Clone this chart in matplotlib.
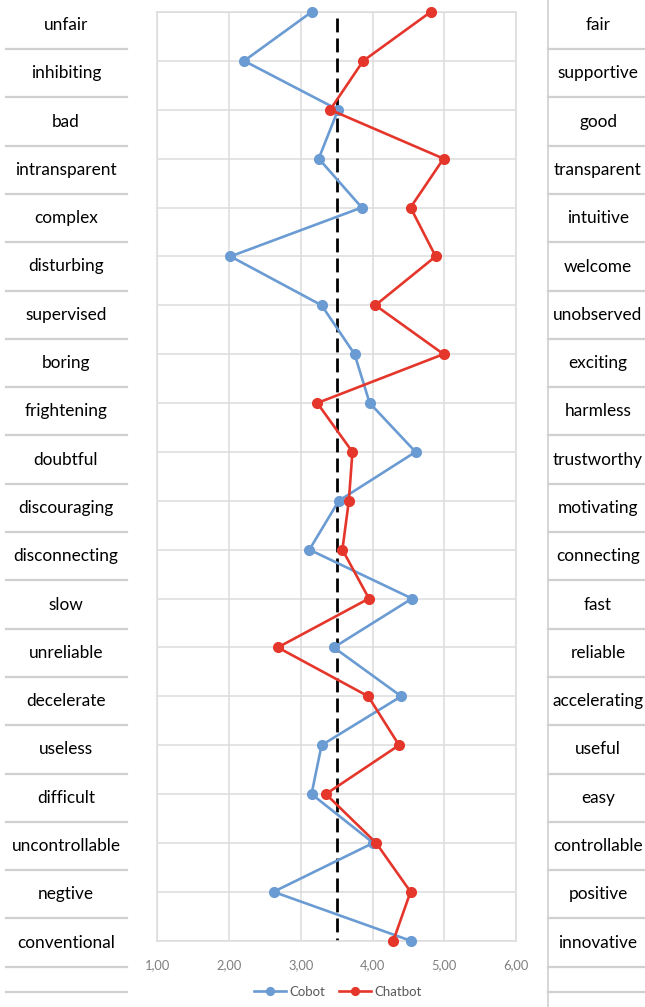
import matplotlib
matplotlib.use("Agg")
import matplotlib.pyplot as plt
from matplotlib.lines import Line2D

left_labels = ["unfair", "inhibiting", "bad", "intransparent", "complex", "disturbing",
               "supervised", "boring", "frightening", "doubtful", "discouraging",
               "disconnecting", "slow", "unreliable", "decelerate", "useless",
               "difficult", "uncontrollable", "negtive", "conventional"]
right_labels = ["fair", "supportive", "good", "transparent", "intuitive", "welcome",
                "unobserved", "exciting", "harmless", "trustworthy", "motivating",
                "connecting", "fast", "reliable", "accelerating", "useful",
                "easy", "controllable", "positive", "innovative"]
cobot = [3.15, 2.21, 3.52, 3.25, 3.85, 2.02, 3.29, 3.75, 3.96, 4.60,
         3.53, 3.12, 4.55, 3.46, 4.40, 3.29, 3.15, 4.01, 2.62, 4.53]
chatbot = [4.81, 3.87, 3.41, 4.99, 4.53, 4.88, 4.04, 4.99, 3.23, 3.72,
           3.67, 3.58, 3.95, 2.68, 3.94, 4.37, 3.35, 4.05, 4.53, 4.29]
x_ticks = [1, 2, 3, 4, 5, 6]
tick_labels = ["1,00", "2,00", "3,00", "4,00", "5,00", "6,00"]
neutral = 3.5

plt.rcParams['font.family'] = ['Lato', 'DejaVu Sans']

W, H = 645, 1007
fig = plt.figure(figsize=(W / 100, H / 100), dpi=100)

def fx(px):
    return px / W

def fy(py):
    return 1 - py / H

ax_l, ax_r = 157.3, 516.0
ax_t, ax_b = 12.0, 940.7
ax = fig.add_axes([fx(ax_l), fy(ax_b), fx(ax_r) - fx(ax_l), fy(ax_t) - fy(ax_b)])

rows = list(range(len(left_labels)))
blue = "#6A9BD3"
red = "#E5362B"
grid_c = "#DCDCDC"

ax.set_xlim(1, 6)
ax.set_ylim(len(rows) - 1, 0)
ax.set_xticks(x_ticks)
ax.set_xticklabels(tick_labels, color="#7F7F7F", fontsize=9.3)
ax.set_yticks(rows)
ax.set_yticklabels([])
ax.tick_params(axis="both", length=0, pad=13)
ax.grid(True, color=grid_c, linewidth=1.1)
ax.set_axisbelow(True)
for s in ax.spines.values():
    s.set_color(grid_c)
    s.set_linewidth(1.1)

ax.plot([neutral, neutral], [0.13, len(rows) - 1], color="black", lw=2,
        dashes=(5, 2.2), zorder=2)
l1, = ax.plot(cobot, rows, color=blue, lw=1.9, marker="o", ms=7, label="Cobot",
              zorder=3, clip_on=False)
l2, = ax.plot(chatbot, rows, color=red, lw=1.9, marker="o", ms=7, label="Chatbot",
              zorder=4, clip_on=False)

leg = fig.legend(handles=[l1, l2], loc="center", bbox_to_anchor=(fx(338), fy(992)),
                 ncol=2, frameon=False, fontsize=9.5, handlelength=2.4,
                 columnspacing=1.0, handletextpad=0.3, markerscale=0.8)
for t in leg.get_texts():
    t.set_color("#595959")

# side label columns
sep_c = "#D0D0D0"
row_h = 48.3
for i, (ll, rl) in enumerate(zip(left_labels, right_labels)):
    yc = 25 + row_h * i
    fig.text(fx(66), fy(yc), ll, ha="center", va="center", fontsize=12.4, color="black")
    fig.text(fx(598), fy(yc), rl, ha="center", va="center", fontsize=12.4, color="black")
seps = [49 + row_h * k for k in range(len(left_labels))] + [991.7]
for yv in seps:
    fig.add_artist(Line2D([fx(6), fx(127)], [fy(yv), fy(yv)], color=sep_c, lw=1.6))
    fig.add_artist(Line2D([fx(547.5), fx(645)], [fy(yv), fy(yv)], color=sep_c, lw=1.6))
fig.add_artist(Line2D([fx(547.5), fx(547.5)], [0, 1], color=sep_c, lw=1.2))

fig.savefig("out.png", dpi=100)
